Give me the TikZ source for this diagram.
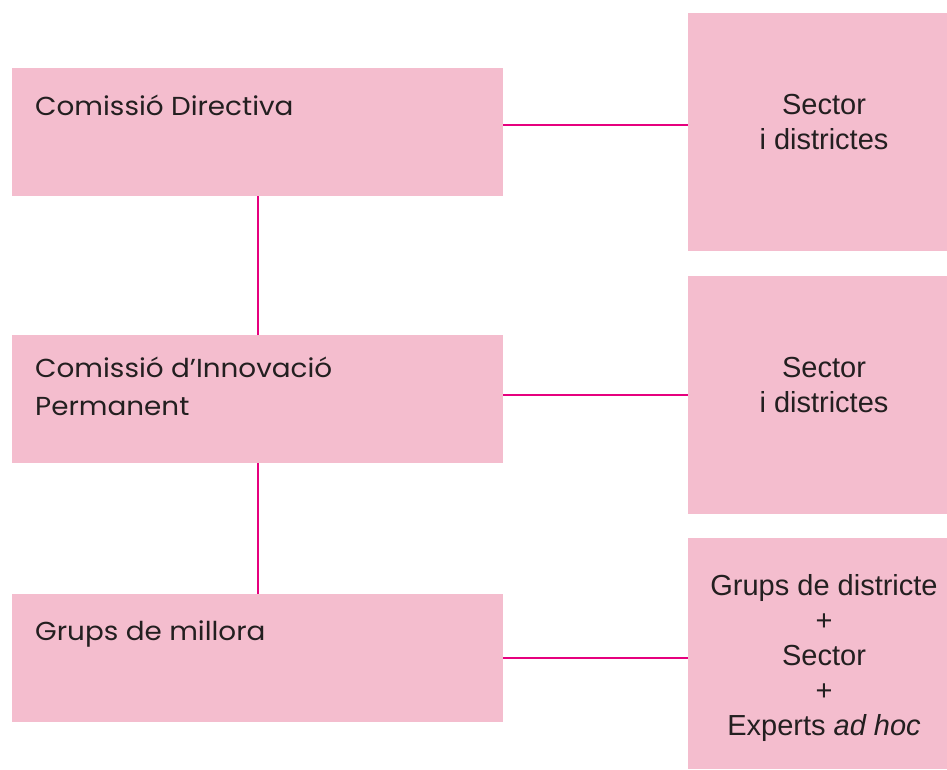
\documentclass[tikz,border=0pt]{standalone}
\usepackage{fontspec}
\setmainfont{Liberation Sans}
\newfontfamily\geofont{Poppins}
\definecolor{boxpink}{HTML}{F4BDCE}
\definecolor{linkmag}{HTML}{E6007E}
\definecolor{txt}{HTML}{231F20}
\newcommand{\wide}[1]{\scalebox{1.07}[1]{#1}}
\begin{document}
\begin{tikzpicture}[x=1pt,y=-1pt,
  leftbox/.style={fill=boxpink, draw=none, minimum width=491pt, minimum height=128pt, inner sep=0pt, anchor=north west},
  rightbox/.style={fill=boxpink, draw=none, minimum width=259pt, inner sep=0pt, anchor=north west},
  lefttext/.style={anchor=base west, font=\geofont\fontsize{26}{38}\selectfont, text=txt, align=left, inner sep=0pt},
  righttext/.style={anchor=base, font=\fontsize{29}{34.8}\selectfont, text=txt, align=center, inner sep=0pt},
  link/.style={draw=linkmag, line width=2.8pt}]
\useasboundingbox (0,0) rectangle (947,769);
% left boxes
\node[leftbox] (cd) at (12,68) {};
\node[leftbox] (ci) at (12,335) {};
\node[leftbox] (gm) at (12,594) {};
% right boxes
\node[rightbox, minimum height=238pt] (r1) at (688,13) {};
\node[rightbox, minimum height=238pt] (r2) at (688,276) {};
\node[rightbox, minimum height=231pt] (r3) at (688,538) {};
% texts
\node[lefttext] (tcd) at (35,115) {\wide{Comissió Directiva}};
\node[lefttext] (tci) at (35,415) {\wide{Comissió d’Innovació}\\\wide{Permanent}};
\node[lefttext] (tgm) at (35,640) {\wide{Grups de millora}};
\node[righttext] (tr1) at (824,149) {Sector\\i districtes};
\node[righttext] (tr2) at (824,412) {Sector\\i districtes};
\node[righttext] (tr3) at (824,735) {Grups de districte\\+\\Sector\\+\\Experts \textit{ad hoc}};
% connectors
\coordinate (v1a) at (258,196);
\coordinate (v1b) at (258,335);
\coordinate (v2a) at (258,463);
\coordinate (v2b) at (258,594);
\draw[link] (v1a) -- (v1b);
\draw[link] (v2a) -- (v2b);
\draw[link] (cd.east |- 0,125) -- (r1.west |- 0,125);
\draw[link] (ci.east |- 0,395) -- (r2.west |- 0,395);
\draw[link] (gm.east |- 0,658) -- (r3.west |- 0,658);
\end{tikzpicture}
\end{document}
